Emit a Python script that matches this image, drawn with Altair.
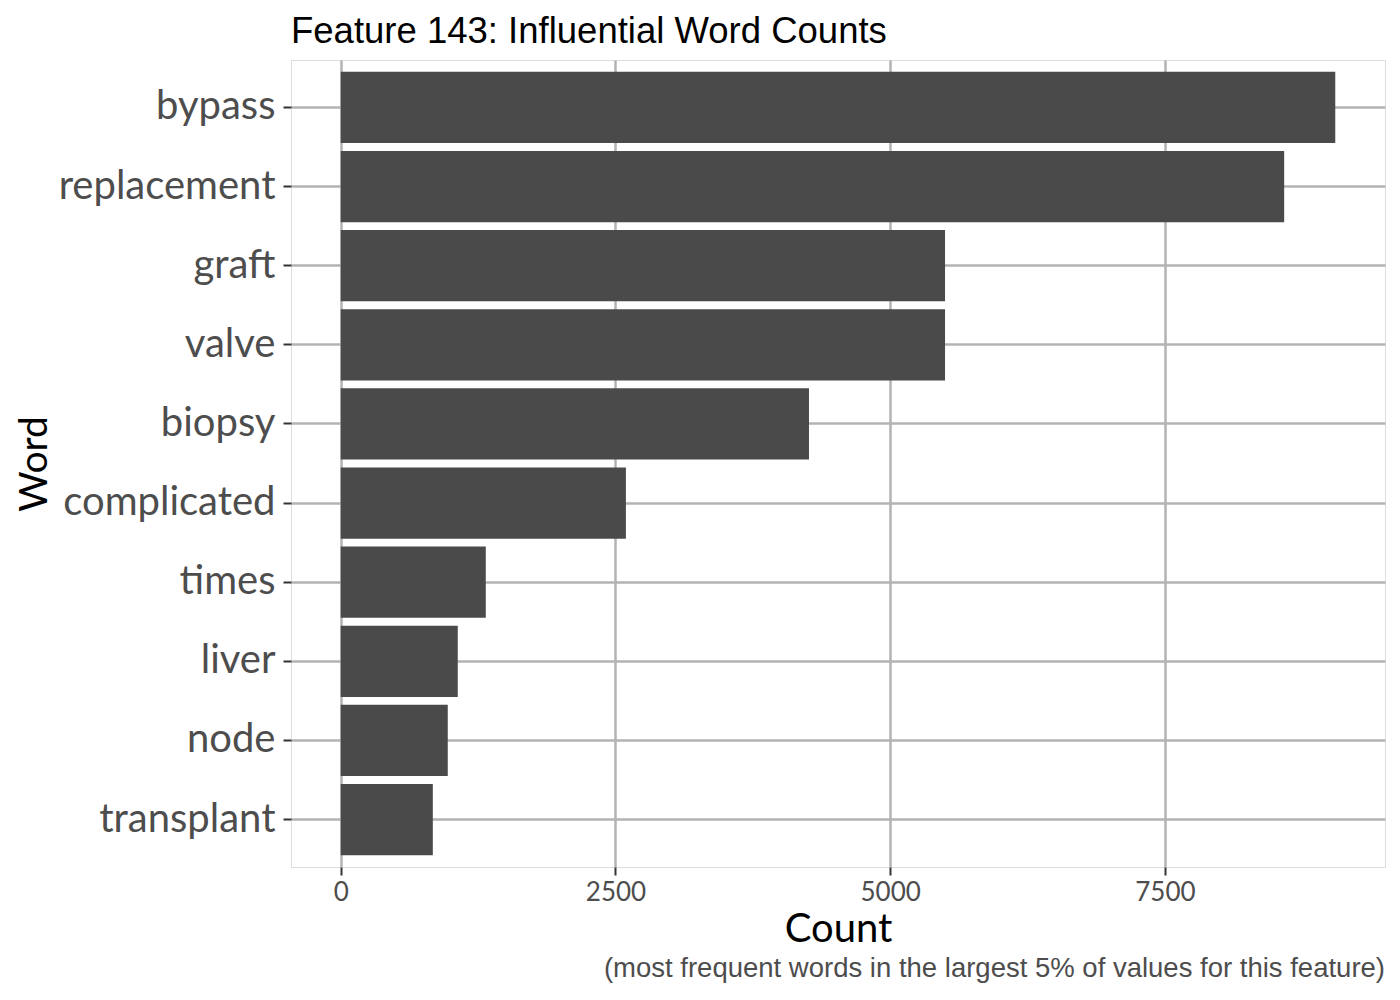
import altair as alt
import pandas as pd

words = ["bypass", "replacement", "graft", "valve", "biopsy",
         "complicated", "times", "liver", "node", "transplant"]
counts = [9050, 8585, 5499, 5499, 4261, 2595, 1320, 1065, 974, 838]
x_ticks = [0, 2500, 5000, 7500]
title_text = "Feature 143: Influential Word Counts"
caption_text = "(most frequent words in the largest 5% of values for this feature)"

df = pd.DataFrame({"Word": words, "Count": counts})
cap = pd.DataFrame({"t": [caption_text]})

W, H = 1094, 807
vmax = max(counts)
dom = [-0.05 * vmax, vmax * 1.05]

LABEL_FONT = "Lato"

bars = alt.Chart(df).mark_bar(color="#4a4a4a").encode(
    x=alt.X("Count:Q",
            scale=alt.Scale(domain=dom, nice=False, zero=False),
            axis=alt.Axis(values=x_ticks, title="Count", format="d",
                          grid=True, gridColor="#b3b3b3", gridWidth=2.5,
                          domain=False, ticks=True, tickSize=8, tickColor="#333333",
                          tickWidth=2,
                          labelFont=LABEL_FONT, labelFontSize=26, labelColor="#4d4d4d",
                          labelPadding=4,
                          titleFont=LABEL_FONT, titleFontSize=40, titleColor="#000000",
                          titleFontWeight="normal", titlePadding=4)),
    y=alt.Y("Word:N", sort=words,
            scale=alt.Scale(paddingInner=0.1, paddingOuter=0.15),
            axis=alt.Axis(title="Word", bandPosition=0.5,
                          grid=True, gridColor="#b3b3b3", gridWidth=2.5,
                          domain=False, ticks=True, tickSize=8, tickColor="#333333",
                          tickWidth=2, labelLimit=500,
                          labelFont=LABEL_FONT, labelFontSize=40, labelColor="#4d4d4d",
                          labelPadding=8,
                          titleFont=LABEL_FONT, titleFontSize=39, titleColor="#000000",
                          titleFontWeight="normal",
                          titleX=-245, titleY=H / 2, titleAngle=270,
                          titleAlign="center", titleBaseline="alphabetic")),
)

caption = alt.Chart(cap).mark_text(
    font="Liberation Sans", fontSize=27.5, color="#4d4d4d",
    align="right", baseline="alphabetic"
).encode(
    text="t:N",
    x=alt.value(W),
    y=alt.value(H + 110),
)

chart = alt.layer(bars, caption).properties(
    width=W, height=H,
    title=alt.TitleParams(title_text, anchor="start", frame="group",
                          font="Liberation Sans",
                          fontSize=36.5, fontWeight="normal", color="#000000",
                          offset=10),
    autosize=alt.AutoSizeParams(type="none"),
    padding={"left": 283, "top": 52, "right": 6, "bottom": 125},
).configure_view(
    stroke="#b3b3b3", strokeWidth=1.5
).configure(background="white")

chart.save("out.html", embed_options={"renderer": "svg", "actions": False})
